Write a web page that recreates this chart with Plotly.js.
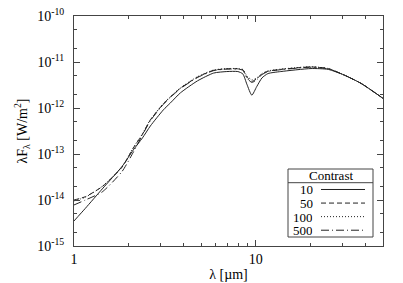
<!DOCTYPE html>
<html>
<head>
<meta charset="utf-8">
<script src="https://cdn.plot.ly/plotly-3.0.1.min.js"></script>
<style>
  html, body { margin: 0; padding: 0; background: #fff; }
  #chart { width: 403px; height: 283px; }
</style>
</head>
<body>
<div id="chart"></div>
<script>
// Wavelength grid [um], shared by all curves
const wavelength = [1.0, 1.155, 1.43, 1.84, 2.12, 2.38, 2.63, 3.10, 3.39, 3.85, 4.78, 5.86, 6.92,
  7.96, 8.48, 8.92, 9.5, 10.1, 10.8, 11.65, 13.7, 20.1, 25.0, 30.6, 38.0, 50];

// lambda F_lambda [W/m^2] for each contrast
const flux10 = [3.5e-15, 6.6e-15, 1.74e-14, 5.4e-14, 1.23e-13, 2.24e-13, 4.07e-13, 9.1e-13, 1.29e-12,
  2.14e-12, 3.9e-12, 5.75e-12, 6.2e-12, 6.2e-12, 5.5e-12, 3.3e-12, 1.9e-12, 2.9e-12, 4.5e-12,
  5.6e-12, 6.2e-12, 7.2e-12, 6.9e-12, 5.2e-12, 3.4e-12, 1.62e-12];
const flux50 = [1.0e-14, 1.18e-14, 1.96e-14, 5.2e-14, 1.35e-13, 2.7e-13, 5.5e-13, 1.23e-12, 1.74e-12,
  2.7e-12, 4.7e-12, 6.6e-12, 7.1e-12, 7.1e-12, 6.8e-12, 4.7e-12, 3.8e-12, 4.3e-12, 5.5e-12,
  6.3e-12, 6.9e-12, 7.8e-12, 7.2e-12, 5.2e-12, 3.4e-12, 1.62e-12];
const flux100 = [9.6e-15, 1.15e-14, 1.98e-14, 5.3e-14, 1.38e-13, 2.75e-13, 5.6e-13, 1.25e-12, 1.77e-12,
  2.75e-12, 4.8e-12, 6.7e-12, 7.2e-12, 7.2e-12, 6.9e-12, 5.0e-12, 4.1e-12, 4.5e-12, 5.6e-12,
  6.4e-12, 7.0e-12, 7.9e-12, 7.2e-12, 5.2e-12, 3.4e-12, 1.62e-12];
const flux500 = [7.8e-15, 1.0e-14, 1.5e-14, 4.2e-14, 1.1e-13, 2.6e-13, 5.3e-13, 1.2e-12, 1.7e-12,
  2.65e-12, 4.6e-12, 6.5e-12, 7.0e-12, 7.0e-12, 6.6e-12, 4.5e-12, 3.6e-12, 4.1e-12, 5.3e-12,
  6.2e-12, 6.8e-12, 7.7e-12, 7.1e-12, 5.2e-12, 3.4e-12, 1.62e-12];

const contrastNames = ["10", "50", "100", "500"];
const contrastFlux = [flux10, flux50, flux100, flux500];
const contrastDash = ["solid", "5px,3px", "1px,2px", "8px,3px,1px,3px"];

const yTickVals = [1e-15, 1e-14, 1e-13, 1e-12, 1e-11, 1e-10];
const yTickText = ["10<sup>-15</sup>", "10<sup>-14</sup>", "10<sup>-13</sup>",
  "10<sup>-12</sup>", "10<sup>-11</sup>", "10<sup>-10</sup>"];
const xTickVals = [1, 10];
const xTickText = ["1", "10"];

const fontFamily = "Liberation Serif, Times New Roman, serif";
const ink = "#222";

const traces = contrastNames.map((name, i) => ({
  x: wavelength,
  y: contrastFlux[i],
  type: "scatter",
  mode: "lines",
  name: name,
  line: { color: ink, width: 1, dash: contrastDash[i], shape: "spline", smoothing: 0.6 },
  showlegend: false,
}));

// Custom gnuplot-like key (label on the left, sample on the right), in paper coordinates
const plotW = 309, plotH = 230;
const px = (p) => (p - 74) / plotW;
const py = (p) => (246 - p) / plotH;
const keyBox = { left: 288, right: 373, top: 169, bottom: 237, titleLine: 182.7 };
const rowH = (keyBox.bottom - keyBox.titleLine) / contrastNames.length;

const shapes = [
  { type: "rect", xref: "paper", yref: "paper", x0: px(keyBox.left), x1: px(keyBox.right),
    y0: py(keyBox.bottom), y1: py(keyBox.top), line: { color: "#444", width: 1 }, fillcolor: "#fff" },
  { type: "line", xref: "paper", yref: "paper", x0: px(keyBox.left), x1: px(keyBox.right),
    y0: py(keyBox.titleLine), y1: py(keyBox.titleLine), line: { color: "#444", width: 1 } },
];
const annotations = [
  { xref: "paper", yref: "paper", x: px((keyBox.left + keyBox.right) / 2),
    y: py((keyBox.top + keyBox.titleLine) / 2), text: "Contrast", showarrow: false,
    xanchor: "center", yanchor: "middle", height: 13, borderpad: 0,
    font: { family: fontFamily, size: 13, color: "#000" } },
];
contrastNames.forEach((name, i) => {
  const rowY = keyBox.titleLine + rowH * (i + 0.5);
  annotations.push({
    xref: "paper", yref: "paper", x: px(314), y: py(rowY), text: name, showarrow: false,
    xanchor: "right", yanchor: "middle", height: 12, borderpad: 0,
    font: { family: fontFamily, size: 13, color: "#000" },
  });
  shapes.push({
    type: "line", xref: "paper", yref: "paper", x0: px(321), x1: px(365), y0: py(rowY), y1: py(rowY),
    line: { color: ink, width: 1, dash: contrastDash[i] },
  });
});

const axisCommon = {
  showline: true,
  linecolor: "#444",
  linewidth: 1,
  mirror: "allticks",
  ticks: "inside",
  ticklen: 6,
  tickcolor: "#444",
  showgrid: false,
  zeroline: false,
  tickfont: { family: fontFamily, size: 14, color: "#000" },
};

const layout = {
  width: 403,
  height: 283,
  margin: { l: 74, r: 20, t: 16, b: 37 },
  paper_bgcolor: "#fff",
  plot_bgcolor: "#fff",
  font: { family: fontFamily, color: "#000" },
  xaxis: Object.assign({}, axisCommon, {
    type: "log",
    range: [0, Math.log10(50)],
    tickmode: "array",
    tickvals: xTickVals,
    ticktext: xTickText,
    minor: { ticks: "inside", ticklen: 3, tickcolor: "#444", dtick: "D1", showgrid: false },
    title: { text: "λ [µm]", font: { family: fontFamily, size: 14 }, standoff: 3 },
  }),
  yaxis: Object.assign({}, axisCommon, {
    type: "log",
    range: [-15, -10],
    tickmode: "array",
    tickvals: yTickVals,
    ticktext: yTickText,
    ticklabelstandoff: 6,
    minor: { ticks: "inside", ticklen: 3, tickcolor: "#444", dtick: "D2", showgrid: false },
    title: { text: "λF<sub>λ</sub> [W/m<sup>2</sup>]", font: { family: fontFamily, size: 14 }, standoff: 6 },
  }),
  shapes: shapes,
  annotations: annotations,
};

Plotly.newPlot("chart", traces, layout, { displayModeBar: false, staticPlot: true });
</script>
</body>
</html>
